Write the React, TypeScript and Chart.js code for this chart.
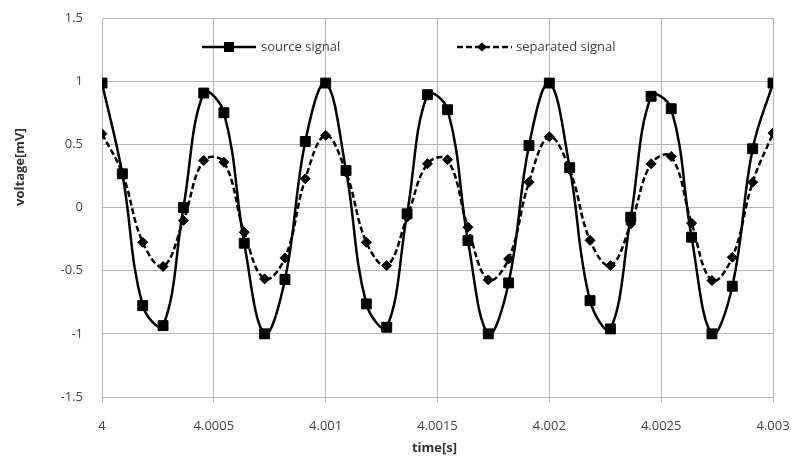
import React, { useEffect, useRef } from "react";
import { Chart, registerables } from "chart.js";

Chart.register(...registerables);

const timeValues = [
  4, 4.000091, 4.000182, 4.000273, 4.000364, 4.000455, 4.000545, 4.000636, 4.000727, 4.000818, 4.000909,
  4.001, 4.001091, 4.001182, 4.001273, 4.001364, 4.001455, 4.001545, 4.001636, 4.001727, 4.001818, 4.001909,
  4.002, 4.002091, 4.002182, 4.002273, 4.002364, 4.002455, 4.002545, 4.002636, 4.002727, 4.002818, 4.002909,
  4.003,
];

const sourceSignal = [
  0.985, 0.267, -0.777, -0.935, 0.0, 0.906, 0.75, -0.283, -1.0, -0.57, 0.523,
  0.985, 0.293, -0.763, -0.948, -0.05, 0.893, 0.774, -0.261, -1.0, -0.597, 0.491,
  0.985, 0.315, -0.737, -0.961, -0.077, 0.88, 0.782, -0.235, -1.0, -0.623, 0.465,
  0.985,
];

const separatedSignal = [
  0.584, 0.27, -0.275, -0.467, -0.103, 0.372, 0.359, -0.196, -0.565, -0.399, 0.227,
  0.571, 0.28, -0.275, -0.46, -0.077, 0.346, 0.378, -0.156, -0.573, -0.407, 0.2,
  0.56, 0.3, -0.26, -0.46, -0.13, 0.346, 0.404, -0.124, -0.578, -0.394, 0.2,
  0.589,
];

const seriesNames = ["source signal", "separated signal"];
const xTicks = [4, 4.0005, 4.001, 4.0015, 4.002, 4.0025, 4.003];
const xTickLabels = ["4", "4.0005", "4.001", "4.0015", "4.002", "4.0025", "4.003"];
const yTicks = [-1.5, -1, -0.5, 0, 0.5, 1, 1.5];
const yTickLabels = ["-1.5", "-1", "-0.5", "0", "0.5", "1", "1.5"];
const xTitle = "time[s]";
const yTitle = "voltage[mV]";

const FONT = "'Open Sans', 'Liberation Sans', sans-serif";
const GRID = "#b4b4b4";
const TICK_COLOR = "#454545";
const LINE_W = 2.5;

const overlayPlugin = {
  id: "overlay",
  afterDraw(chart: any) {
    const ctx = chart.ctx as CanvasRenderingContext2D;
    const area = chart.chartArea;
    ctx.save();
    // axis titles
    ctx.fillStyle = "#333";
    ctx.font = `bold 13px ${FONT}`;
    ctx.textAlign = "center";
    ctx.textBaseline = "middle";
    ctx.fillText(xTitle, (area.left + area.right) / 2 - 3, 448);
    ctx.save();
    ctx.translate(20, 167);
    ctx.rotate(-Math.PI / 2);
    ctx.fillText(yTitle, 0, 0);
    ctx.restore();

    // legend
    const ly = 47;
    ctx.font = `13px ${FONT}`;
    ctx.textAlign = "left";
    // source
    ctx.strokeStyle = "#000";
    ctx.lineWidth = LINE_W;
    ctx.setLineDash([]);
    ctx.beginPath();
    ctx.moveTo(202, ly);
    ctx.lineTo(256, ly);
    ctx.stroke();
    ctx.fillStyle = "#000";
    ctx.fillRect(229 - 5, ly - 5, 10, 10);
    ctx.fillStyle = "#404040";
    ctx.fillText(seriesNames[0], 261, ly);
    // separated
    ctx.setLineDash([6, 3]);
    ctx.beginPath();
    ctx.moveTo(457, ly);
    ctx.lineTo(512, ly);
    ctx.stroke();
    ctx.setLineDash([]);
    ctx.fillStyle = "#000";
    ctx.beginPath();
    ctx.moveTo(482 - 5, ly);
    ctx.lineTo(482, ly - 4.5);
    ctx.lineTo(482 + 5, ly);
    ctx.lineTo(482, ly + 4.5);
    ctx.closePath();
    ctx.fill();
    ctx.fillStyle = "#404040";
    ctx.fillText(seriesNames[1], 516, ly);
    ctx.restore();
  },
};

export default function App() {
  const canvasRef = useRef<HTMLCanvasElement | null>(null);

  useEffect(() => {
    document.body.style.margin = "0";
    const canvas = canvasRef.current;
    if (!canvas) return;
    const chart = new Chart(canvas, {
      type: "line",
      data: {
        datasets: [
          {
            label: seriesNames[0],
            data: timeValues.map((t, i) => ({ x: t, y: sourceSignal[i] })),
            borderColor: "#000",
            backgroundColor: "#000",
            borderWidth: LINE_W,
            tension: 0.4,
            pointStyle: "rect",
            pointRadius: 7,
            pointBorderWidth: 1,
            pointBackgroundColor: "#000",
            pointBorderColor: "#000",
            fill: false,
          },
          {
            label: seriesNames[1],
            data: timeValues.map((t, i) => ({ x: t, y: separatedSignal[i] })),
            borderColor: "#000",
            backgroundColor: "#000",
            borderWidth: LINE_W,
            borderDash: [6, 3],
            tension: 0.4,
            pointStyle: "rectRot",
            pointRadius: 5,
            pointBorderWidth: 1,
            pointBackgroundColor: "#000",
            pointBorderColor: "#000",
            fill: false,
          },
        ],
      },
      options: {
        responsive: false,
        animation: false,
        devicePixelRatio: 1,
        layout: { padding: { top: 18, right: 27, left: 0, bottom: 0 } },
        plugins: {
          legend: { display: false },
          tooltip: { enabled: false },
          title: { display: false },
        },
        scales: {
          x: {
            type: "linear",
            min: 4,
            max: 4.003,
            afterBuildTicks: (scale: any) => {
              scale.ticks = xTicks.map((v) => ({ value: v }));
            },
            afterFit: (scale: any) => {
              scale.height = 66;
              scale.paddingLeft = 0;
              scale.paddingRight = 0;
            },
            grid: {
              color: GRID,
              lineWidth: 1,
              drawTicks: true,
              tickLength: 5,
              tickColor: GRID,
            },
            border: { color: GRID, width: 1 },
            ticks: {
              color: TICK_COLOR,
              font: { family: FONT, size: 13 },
              padding: 16,
              maxRotation: 0,
              autoSkip: false,
              callback: (_v: any, i: number) => xTickLabels[i],
            },
          },
          y: {
            type: "linear",
            min: -1.5,
            max: 1.5,
            afterBuildTicks: (scale: any) => {
              scale.ticks = yTicks.map((v) => ({ value: v }));
            },
            afterFit: (scale: any) => {
              scale.width = 102;
              scale.paddingTop = 0;
              scale.paddingBottom = 0;
            },
            grid: {
              color: GRID,
              lineWidth: 1,
              drawTicks: false,
            },
            border: { color: GRID, width: 1 },
            ticks: {
              color: TICK_COLOR,
              font: { family: FONT, size: 13 },
              padding: 19,
              autoSkip: false,
              callback: (_v: any, i: number) => yTickLabels[i],
            },
          },
        },
      },
      plugins: [overlayPlugin],
    });
    return () => chart.destroy();
  }, []);

  return (
    <div style={{ position: "absolute", left: 0, top: 0, width: 800, height: 463, background: "#fff" }}>
      <canvas ref={canvasRef} width={800} height={463} style={{ display: "block" }} />
    </div>
  );
}
